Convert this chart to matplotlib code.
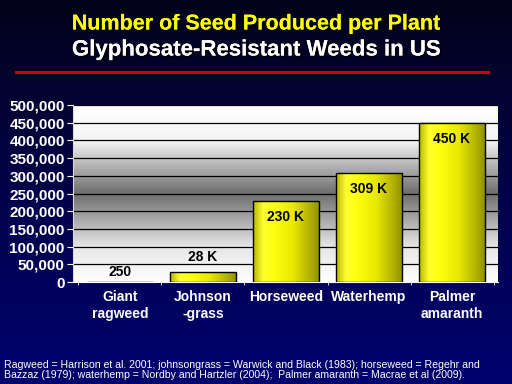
import matplotlib
matplotlib.use('Agg')
import matplotlib.pyplot as plt
import matplotlib.patheffects as pe
import numpy as np
from matplotlib.colors import LinearSegmentedColormap
from matplotlib.ticker import FuncFormatter

plt.rcParams['font.family'] = ['Liberation Sans', 'DejaVu Sans']

categories = ['Giant\nragweed', 'Johnson\n-grass', 'Horseweed', 'Waterhemp', 'Palmer\namaranth']
seeds = [250, 28000, 230000, 309000, 450000]
value_labels = ['250', '28 K', '230 K', '309 K', '450 K']
label_inside = [False, False, True, True, True]
y_ticks = [0, 50000, 100000, 150000, 200000, 250000, 300000, 350000, 400000, 450000, 500000]

title = 'Number of Seed Produced per Plant'
subtitle = 'Glyphosate-Resistant Weeds in US'
footnote = ('Ragweed = Harrison et al. 2001; johnsongrass = Warwick and Black (1983); horseweed = Regehr and\n'
            'Bazzaz (1979); waterhemp = Nordby and Hartzler (2004);  Palmer amaranth = Macrae et al (2009).')

fig = plt.figure(figsize=(5.12, 3.84), dpi=100)

# slide background: near black at top to navy at bottom
bg = fig.add_axes([0, 0, 1, 1], zorder=-10)
bg_cmap = LinearSegmentedColormap.from_list('slide', ['#02021a', '#03034a', '#00006e'])
bg.imshow(np.linspace(0, 1, 256).reshape(-1, 1), cmap=bg_cmap, aspect='auto', extent=[0, 1, 0, 1])
bg.set_axis_off()

ax = fig.add_axes([73 / 512, 1 - 282 / 384, 425 / 512, 177 / 384])

# grey wall gradient behind the bars
wall_cmap = LinearSegmentedColormap.from_list(
    'wall', [(0.0, '#ffffff'), (0.2, '#f4f4f4'), (0.5, '#6e6e6e'), (0.8, '#e6e6e6'), (1.0, '#ffffff')])
ax.imshow(np.linspace(0, 1, 256).reshape(-1, 1), cmap=wall_cmap, aspect='auto',
          extent=[0, 1, 0, 1], transform=ax.transAxes, zorder=0)

x = np.arange(len(categories))
for yt in y_ticks[1:]:
    ax.axhline(yt, color='black', lw=0.9, zorder=1)

bar_cmap = LinearSegmentedColormap.from_list(
    'cyl', [(0.0, '#b8b800'), (0.15, '#ffff30'), (0.3, '#ffff10'), (0.6, '#e8e800'), (0.9, '#a8a800'), (1.0, '#8c8c00')])
bars = ax.bar(x, seeds, width=0.8, color='none', edgecolor='black', lw=1.0, zorder=3)
for b in bars:
    im = ax.imshow(np.linspace(0, 1, 128).reshape(1, -1), cmap=bar_cmap, aspect='auto',
                   extent=[b.get_x(), b.get_x() + b.get_width(), 0, max(b.get_height(), 1)], zorder=2)
    im.set_clip_path(b)

for b, txt, inside in zip(bars, value_labels, label_inside):
    cx = b.get_x() + b.get_width() / 2
    if inside:
        ax.annotate(txt, (cx, b.get_height()), xytext=(0, -16), textcoords='offset pixels',
                    ha='center', va='center', fontsize=10, fontweight='bold', color='black', zorder=4)
    else:
        off = 10 if b.get_height() < 5000 else 15
        ax.annotate(txt, (cx, b.get_height()), xytext=(0, off), textcoords='offset pixels',
                    ha='center', va='center', fontsize=10, fontweight='bold', color='black', zorder=4)

ax.set_xlim(-0.566, 4.554)
ax.set_ylim(0, 500000)
ax.set_yticks(y_ticks)
ax.yaxis.set_major_formatter(FuncFormatter(lambda v, p: '{:,.0f}'.format(v)))
ax.set_xticks(x)
ax.set_xticklabels(categories)
ax.set_xticks(np.arange(-0.5, len(categories)), minor=True)
ax.tick_params(axis='x', which='major', length=0, pad=6, labelcolor='white', labelsize=10)
ax.tick_params(axis='x', which='minor', length=4, direction='inout', color='white')
ax.tick_params(axis='y', length=4, color='white', labelcolor='white', labelsize=11, pad=2)
for lbl in ax.get_xticklabels() + ax.get_yticklabels():
    lbl.set_fontweight('bold')
for s in ['top', 'right']:
    ax.spines[s].set_visible(False)
ax.spines['left'].set_color('#d8d8d8')
ax.spines['bottom'].set_color('white')

shadow = [pe.withSimplePatchShadow(offset=(1.2, -1.2), shadow_rgbFace='black', alpha=0.9), pe.Normal()]
fig.text(0.5, 1 - 24 / 384, title, ha='center', va='center', fontsize=15.5, fontweight='bold',
         color='#ffff00', path_effects=shadow)
fig.text(0.5, 1 - 50 / 384, subtitle, ha='center', va='center', fontsize=16, fontweight='bold',
         color='white', path_effects=shadow)
fig.add_artist(plt.Line2D([16 / 512, 488 / 512], [1 - 72 / 384] * 2, color='#d00000', lw=2.2))

fig.text(4 / 512, 1 - 370 / 384, footnote, ha='left', va='center', fontsize=7.6, color='white',
         linespacing=1.1)

fig.savefig('out.png', dpi=100, facecolor='#00005a')
